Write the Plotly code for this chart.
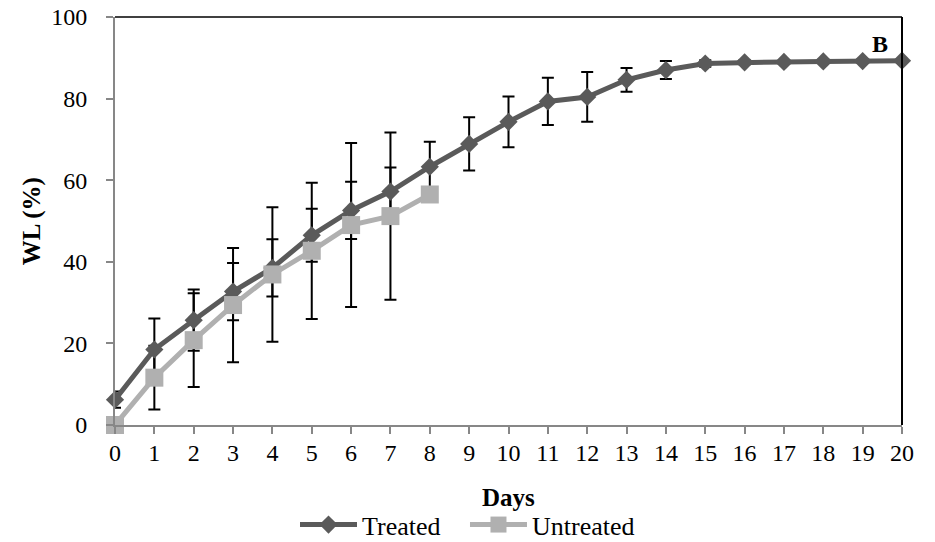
import plotly.graph_objects as go

# Weight loss (%) over storage days
days = list(range(0, 21))
treated = [6.2, 18.5, 25.7, 32.7, 38.5, 46.5, 52.6, 57.2, 63.3, 68.9, 74.3,
           79.3, 80.4, 84.6, 87.0, 88.6, 88.9, 89.0, 89.1, 89.2, 89.3]
treated_err = [2.0, 7.6, 7.5, 7.0, 7.0, 6.5, 7.0, 5.9, 6.1, 6.5, 6.2,
               5.8, 6.1, 2.9, 2.2, 0.8, 0.5, 0.4, 0.4, 0.4, 0.4]

untreated_days = list(range(0, 9))
untreated = [0.0, 11.6, 20.8, 29.4, 36.9, 42.7, 49.0, 51.2, 56.5]
untreated_err = [0.0, 7.8, 11.5, 14.0, 16.5, 16.7, 20.1, 20.5, 0.0]

y_ticks = [0, 20, 40, 60, 80, 100]

FONT = "Liberation Serif, Times New Roman, serif"
DARK = "#5a5a5a"
LIGHT = "#b0b0b0"
AXIS_GRAY = "#878787"

fig = go.Figure()

# error bars first so that lines and markers sit on top of them
for xs, ys, es in [(days, treated, treated_err),
                   (untreated_days, untreated, untreated_err)]:
    fig.add_trace(go.Scatter(
        x=xs, y=ys, mode="markers",
        marker=dict(size=1, opacity=0),
        error_y=dict(type="data", array=es, visible=True,
                     color="black", thickness=2, width=6),
        showlegend=False, hoverinfo="skip", cliponaxis=False,
    ))

# trailing non-breaking spaces widen the gap between the two legend entries
fig.add_trace(go.Scatter(
    x=days, y=treated, name="Treated&nbsp;&nbsp;&nbsp;", mode="lines+markers",
    line=dict(color=DARK, width=5),
    marker=dict(symbol="diamond", size=14, color=DARK),
    cliponaxis=False,
))
fig.add_trace(go.Scatter(
    x=untreated_days, y=untreated, name="Untreated", mode="lines+markers",
    line=dict(color=LIGHT, width=5),
    marker=dict(symbol="square", size=18, color=LIGHT),
    cliponaxis=False,
))

fig.update_layout(
    width=935, height=542,
    margin=dict(l=115, r=33, t=17, b=117, autoexpand=False),
    paper_bgcolor="white", plot_bgcolor="white",
    font=dict(family=FONT, size=24, color="black"),
    showlegend=True,
    legend=dict(
        orientation="h", xref="container", yref="container",
        x=0.5, xanchor="center", y=0.032, yanchor="middle",
        font=dict(family=FONT, size=26, color="black"),
        itemwidth=57, bgcolor="rgba(0,0,0,0)",
    ),
    xaxis=dict(
        range=[0, 20], tickmode="array", tickvals=days,
        ticktext=[str(d) for d in days],
        showgrid=False, zeroline=False, automargin=False,
        showline=True, linecolor=AXIS_GRAY, linewidth=2,
        ticks="outside", ticklen=7, tickwidth=1.5, tickcolor=AXIS_GRAY,
        tickfont=dict(family=FONT, size=24, color="black"),
        ticklabelstandoff=-2,
    ),
    yaxis=dict(
        range=[0, 100], tickmode="array", tickvals=y_ticks,
        showgrid=False, zeroline=False, automargin=False,
        showline=True, linecolor=AXIS_GRAY, linewidth=2,
        ticks="outside", ticklen=7, tickwidth=1.5, tickcolor=AXIS_GRAY,
        tickfont=dict(family=FONT, size=24, color="black"),
        ticklabelstandoff=14,
    ),
    shapes=[
        # plot-area border on top and right
        dict(type="line", xref="paper", yref="paper", x0=0, x1=1, y0=1, y1=1,
             line=dict(color="black", width=1.5)),
        dict(type="line", xref="paper", yref="paper", x0=1, x1=1, y0=0, y1=1,
             line=dict(color="black", width=2)),
    ],
    annotations=[
        dict(text="<b>Days</b>", xref="paper", yref="paper",
             x=0.5, y=-0.177, xanchor="center", yanchor="middle",
             showarrow=False, font=dict(family=FONT, size=25)),
        dict(text="<b>WL (%)</b>", xref="paper", yref="paper",
             x=-0.105, y=0.5, xanchor="center", yanchor="middle", textangle=-90,
             showarrow=False, font=dict(family=FONT, size=25)),
        dict(text="<b>B</b>", xref="paper", yref="paper",
             x=0.972, y=0.933, xanchor="center", yanchor="middle",
             showarrow=False, font=dict(family=FONT, size=24)),
    ],
)

fig.write_html("out.html")
